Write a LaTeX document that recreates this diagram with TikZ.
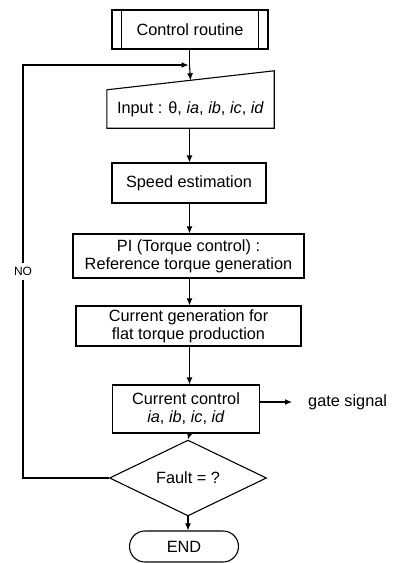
\documentclass[tikz,border=0pt]{standalone}
\usepackage{fontspec}
\setmainfont{Liberation Sans}
\usetikzlibrary{arrows.meta,calc,shapes.geometric}
\begin{document}
\begin{tikzpicture}[x=1pt,y=-1pt,
  every node/.style={font=\fontsize{16.3}{18}\selectfont, align=center, inner sep=0pt},
  box/.style={draw, line width=1.1pt},
  conn/.style={line width=1.1pt},
  arr/.style={conn, -{Latex[length=7pt,width=6pt]}}]
\useasboundingbox[fill=white] (0,0) rectangle (395,563);
% nodes
\node[box, minimum width=156, minimum height=39] (cr) at (190,29.5) {Control routine};
\draw[conn] ($(cr.north west)+(10,0)$) -- ($(cr.south west)+(10,0)$);
\draw[conn] ($(cr.north east)+(-10,0)$) -- ($(cr.south east)+(-10,0)$);
\node[minimum width=167, minimum height=38] (in) at (190.5,109) {Input : θ, \textit{ia}, \textit{ib}, \textit{ic}, \textit{id}};
\draw[conn] (in.south west) -- (in.south east) -- ($(in.north east)+(0,-19)$) -- (in.north west) -- cycle;
\coordinate (inTop) at ($(in.north)+(0,-9.5)$);
\node[box, minimum width=154, minimum height=40] (se) at (189,183) {Speed estimation};
\node[box, minimum width=231, minimum height=44] (pi) at (188.5,256) {PI (Torque control) :\\Reference torque generation};
\node[box, minimum width=225, minimum height=40] (cg) at (188.5,326) {Current generation for\\flat torque production};
\node[box, minimum width=147, minimum height=48] (cc) at (186,409) {Current control\\\textit{ia}, \textit{ib}, \textit{ic}, \textit{id}};
\node[draw, line width=1.1pt, diamond, minimum width=157, minimum height=60] (dm) at (188,478) {Fault = ?};
\node[box, rounded corners=15.5, minimum width=109, minimum height=31] (end) at (184,546.5) {END};
\node[anchor=west, inner xsep=16pt] (gs) at (292,402) {gate signal};
\coordinate (j) at (189.5,65);
\coordinate (lc) at (23,65);
% connectors
\draw[conn] (cr.south -| j) -- (j);
\draw[arr] (j) -- (inTop);
\draw[arr] (in.south -| j) -- (se.north -| j);
\draw[arr] (se.south -| j) -- (pi.north -| j);
\draw[arr] (pi.south -| j) -- (cg.north -| j);
\draw[arr] (cg.south -| j) -- (cc.north -| j);
\draw[arr] (cc.south -| j) -- (dm.north);
\draw[arr] (dm.south) -- (end.north -| dm.south);
\draw[arr] (cc.east |- gs.west) -- (gs.west);
\draw[arr] (dm.west) -| node[pos=0.75, fill=white, inner ysep=4pt, font=\fontsize{12}{14}\selectfont] {NO} (lc) -- ($(j)+(-1,0)$);
\end{tikzpicture}
\end{document}
